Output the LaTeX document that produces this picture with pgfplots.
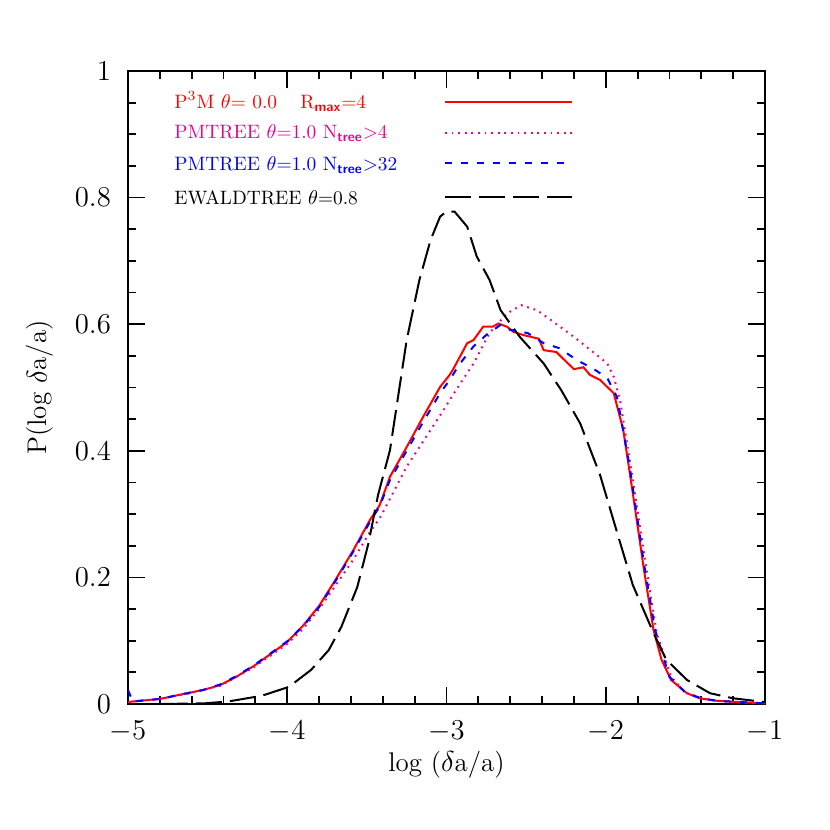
\documentclass[border=0pt]{standalone}
\usepackage{amsmath}
\usepackage{pgfplots}
\pgfplotsset{compat=1.18}
\begin{document}
\begin{tikzpicture}[every node/.append style={font=\fontsize{9.7}{11}\selectfont}]
\useasboundingbox (-64pt,-63pt) rectangle (351pt,352pt);
\begin{axis}[
  at={(0pt,0pt)}, anchor=south west,
  scale only axis, width=318.5pt, height=316.5pt,
  xmin=-5, xmax=-1, ymin=0, ymax=1,
  xtick={-5,-4,-3,-2,-1}, ytick={0,0.2,0.4,0.6,0.8,1},
  minor x tick num=4, minor y tick num=3,
  tick align=inside,
  major tick length=8.5pt, minor tick length=4pt,
  every tick/.style={black, line width=0.9pt},
  axis line style={line width=1pt},
  tick label style={font=\fontsize{13.5}{15}\selectfont},
  xticklabel style={yshift=-5pt},
  yticklabel style={xshift=-5pt, /pgf/number format/fixed},
  xlabel={log ($\delta$a/a)},
  ylabel={P(log $\delta$a/a)},
  every axis x label/.style={at={(axis description cs:0.5,-0.096)}, anchor=center,
    font=\fontsize{13.5}{16}\selectfont},
  every axis y label/.style={at={(axis description cs:-0.138,0.5)}, rotate=90, anchor=center,
    font=\fontsize{13.5}{16}\selectfont},
]
% P3M
\addplot[red, line width=1pt] coordinates {
(-5.0,0.003) (-4.97,0.004) (-4.8,0.008) (-4.63,0.017) (-4.53,0.022) (-4.42,0.030)
(-4.32,0.043) (-4.21,0.060) (-4.11,0.078) (-4.0,0.098) (-3.90,0.124) (-3.80,0.155)
(-3.70,0.195) (-3.585,0.243) (-3.48,0.291) (-3.42,0.314) (-3.355,0.359)
(-3.25,0.406) (-3.146,0.454) (-3.04,0.501) (-2.98,0.520) (-2.96,0.528) (-2.87,0.570)
(-2.83,0.575) (-2.77,0.596) (-2.71,0.596) (-2.675,0.601) (-2.62,0.596) (-2.58,0.588)
(-2.52,0.583) (-2.42,0.577) (-2.39,0.559) (-2.31,0.556) (-2.27,0.546) (-2.20,0.529)
(-2.14,0.532) (-2.10,0.520) (-2.036,0.512) (-1.95,0.491) (-1.89,0.433) (-1.83,0.333)
(-1.76,0.212) (-1.70,0.117) (-1.65,0.070) (-1.59,0.038) (-1.49,0.017) (-1.41,0.009)
(-1.30,0.005) (-1.16,0.003) (-1.0,0.001)};
% PMTREE Ntree>4
\addplot[magenta, line width=1pt, dash pattern=on 0.9pt off 2.4pt] coordinates {
(-5.0,0.003) (-4.8,0.008) (-4.63,0.016) (-4.42,0.029) (-4.21,0.058) (-4.0,0.095)
(-3.90,0.119) (-3.80,0.150) (-3.70,0.186) (-3.585,0.228) (-3.48,0.272) (-3.42,0.293)
(-3.25,0.375) (-3.04,0.456)
(-2.94,0.496) (-2.83,0.538) (-2.73,0.586) (-2.62,0.617) (-2.53,0.630) (-2.43,0.622)
(-2.33,0.604) (-2.20,0.580) (-2.08,0.556) (-1.99,0.538) (-1.95,0.517) (-1.91,0.480)
(-1.84,0.370) (-1.75,0.222) (-1.68,0.112) (-1.59,0.043) (-1.50,0.018) (-1.40,0.009)
(-1.30,0.005) (-1.15,0.002) (-1.0,0.001)};
% PMTREE Ntree>32
\addplot[blue, line width=1pt, dash pattern=on 3.5pt off 4.5pt] coordinates {
(-5.0,0.022) (-4.97,0.004) (-4.8,0.008) (-4.63,0.017) (-4.53,0.022) (-4.42,0.031)
(-4.32,0.044) (-4.21,0.061) (-4.11,0.079) (-4.0,0.099) (-3.90,0.123) (-3.80,0.153)
(-3.70,0.193) (-3.585,0.241) (-3.48,0.288) (-3.42,0.312) (-3.355,0.354) (-3.25,0.400)
(-3.146,0.446) (-3.04,0.491) (-2.98,0.512) (-2.915,0.538) (-2.83,0.565) (-2.75,0.583)
(-2.66,0.599) (-2.60,0.591) (-2.49,0.586) (-2.39,0.570) (-2.29,0.562) (-2.18,0.543)
(-2.08,0.530) (-1.99,0.515) (-1.93,0.485) (-1.91,0.459) (-1.85,0.375) (-1.76,0.222)
(-1.69,0.117) (-1.60,0.043) (-1.50,0.018) (-1.40,0.009) (-1.30,0.005) (-1.15,0.003)
(-1.0,0.001)};
% EWALDTREE
\addplot[black, line width=1pt, dash pattern=on 13pt off 4pt] coordinates {
(-5.0,0.0) (-4.8,0.0) (-4.52,0.001) (-4.37,0.004) (-4.16,0.013) (-3.99,0.027)
(-3.85,0.054) (-3.74,0.085) (-3.66,0.122) (-3.56,0.185) (-3.49,0.254) (-3.43,0.330)
(-3.355,0.401) (-3.25,0.575) (-3.17,0.670) (-3.10,0.733) (-3.04,0.770) (-3.0,0.778)
(-2.95,0.778) (-2.87,0.754) (-2.81,0.707) (-2.73,0.670) (-2.66,0.622) (-2.54,0.580)
(-2.39,0.538) (-2.28,0.496) (-2.16,0.443) (-2.036,0.362) (-1.93,0.272) (-1.83,0.188)
(-1.70,0.112) (-1.62,0.070) (-1.49,0.038) (-1.345,0.017) (-1.20,0.009) (-1.03,0.004)
(-1.0,0.003)};
% legend
\node[anchor=base west, inner sep=0pt, text=red] at (axis cs:-4.711,0.9415)
  {P$^3$M $\theta$= 0.0};
\node[anchor=base west, inner sep=0pt, text=red] at (axis cs:-3.92,0.9415)
  {R$_{\textsf{\textbf{max}}}$=4};
\node[anchor=base west, inner sep=0pt, text=magenta] at (axis cs:-4.711,0.8937)
  {PMTREE $\theta$=1.0 N$_{\textsf{\textbf{tree}}}$>4};
\node[anchor=base west, inner sep=0pt, text=blue] at (axis cs:-4.711,0.8431)
  {PMTREE $\theta$=1.0 N$_{\textsf{\textbf{tree}}}$>32};
\node[anchor=base west, inner sep=0pt, text=black] at (axis cs:-4.711,0.7894)
  {EWALDTREE $\theta$=0.8};
\draw[red, line width=1pt] (axis cs:-3.009,0.9507) -- (axis cs:-2.215,0.9507);
\draw[magenta, line width=1pt, dash pattern=on 0.9pt off 2.4pt] (axis cs:-3.009,0.9017) -- (axis cs:-2.215,0.9017);
\draw[blue, line width=1pt, dash pattern=on 3.5pt off 4.5pt] (axis cs:-3.009,0.8541) -- (axis cs:-2.215,0.8541);
\draw[black, line width=1pt, dash pattern=on 13pt off 4pt] (axis cs:-3.009,0.8015) -- (axis cs:-2.215,0.8015);
\end{axis}
\end{tikzpicture}
\end{document}
